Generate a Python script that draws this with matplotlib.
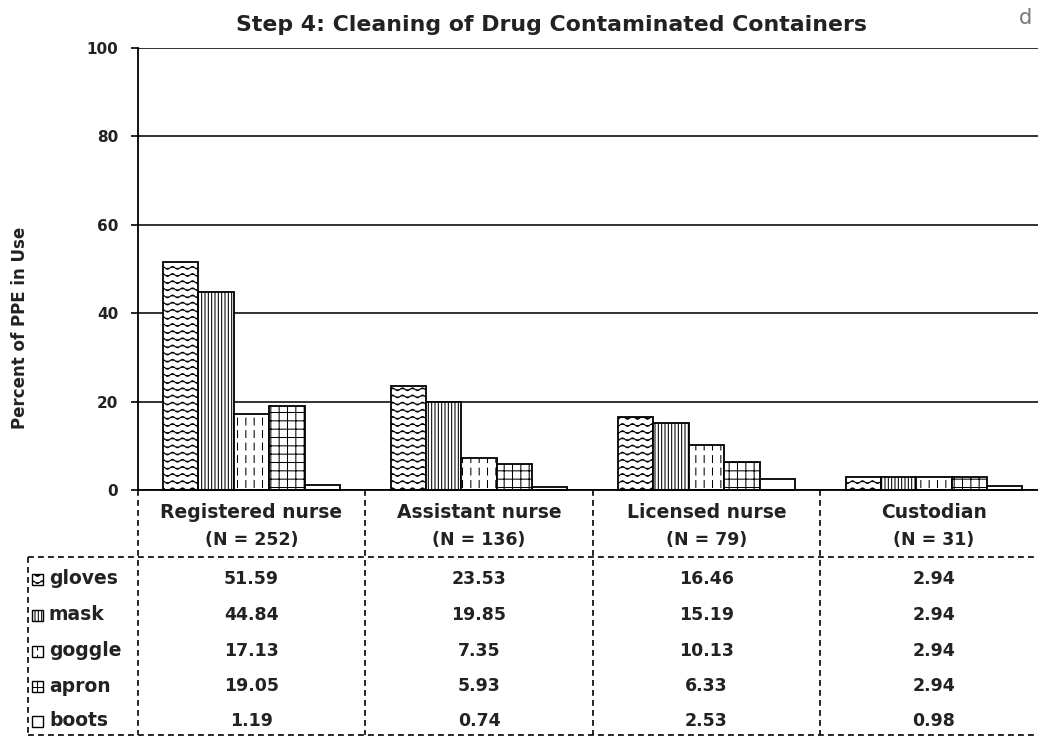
import warnings
warnings.filterwarnings("ignore")
import numpy as np
import matplotlib
matplotlib.use("Agg")
import matplotlib.pyplot as plt
import matplotlib.hatch as mhatch
from matplotlib.path import Path
from matplotlib.patches import Rectangle
from matplotlib.transforms import blended_transform_factory

# ---------------- data ----------------
categories = ["Registered nurse", "Assistant nurse", "Licensed nurse", "Custodian"]
group_sizes = ["(N = 252)", "(N = 136)", "(N = 79)", "(N = 31)"]
series = ["gloves", "mask", "goggle", "apron", "boots"]
gloves = [51.59, 23.53, 16.46, 2.94]
mask = [44.84, 19.85, 15.19, 2.94]
goggle = [17.13, 7.35, 10.13, 2.94]
apron = [19.05, 5.93, 6.33, 2.94]
boots = [1.19, 0.74, 2.53, 0.98]
y_ticks = [0, 20, 40, 60, 80, 100]
title = "Step 4: Cleaning of Drug Contaminated Containers"
y_label = "Percent of PPE in Use"


# ---------------- custom hatches ----------------
class WaveHatch(mhatch.HatchPatternBase):
    def __init__(self, hatch, density):
        self.num_rows = int(round(hatch.count('~') * density * 1.2))
        self.npts = 81
        self.num_vertices = self.num_rows * self.npts

    def set_vertices_and_codes(self, vertices, codes):
        xs = np.linspace(0, 1, self.npts)
        wave = 0.014 * np.sin(2 * np.pi * 10 * xs)
        k = 0
        for r in range(self.num_rows):
            y0 = (r + 0.5) / self.num_rows
            vertices[k:k + self.npts, 0] = xs
            vertices[k:k + self.npts, 1] = y0 + wave
            codes[k] = Path.MOVETO
            codes[k + 1:k + self.npts] = Path.LINETO
            k += self.npts


class DashHatch(mhatch.HatchPatternBase):
    def __init__(self, hatch, density):
        self.num_lines = int(hatch.count('!') * density)
        self.ndash = 8
        self.num_vertices = self.num_lines * self.ndash * 2

    def set_vertices_and_codes(self, vertices, codes):
        k = 0
        for i in range(self.num_lines):
            x = (i + 0.5) / self.num_lines
            for j in range(self.ndash):
                y0 = j / self.ndash
                vertices[k] = (x, y0)
                vertices[k + 1] = (x, y0 + 0.55 / self.ndash)
                codes[k] = Path.MOVETO
                codes[k + 1] = Path.LINETO
                k += 2


mhatch._hatch_types.append(WaveHatch)
mhatch._hatch_types.append(DashHatch)

hatches = ["~~", "|||||", "!!", "++", ""]
values = [gloves, mask, goggle, apron, boots]

plt.rcParams['hatch.linewidth'] = 0.75
plt.rcParams['font.family'] = ['DejaVu Sans']

W, H = 1038, 736
fig = plt.figure(figsize=(W / 100, H / 100), dpi=100)
fig.patch.set_facecolor("white")


def fx(p):
    return p / W


def fy(p):
    return 1 - p / H


ax_left, ax_right = 137.75, 1047.75
ax_top, ax_bot = 48, 490
ax = fig.add_axes([fx(ax_left), fy(ax_bot), (ax_right - ax_left) / W, (ax_bot - ax_top) / H])
ax.set_facecolor("white")

x = np.arange(len(categories))
bw = 0.1556
for i, (name, vals, h) in enumerate(zip(series, values, hatches)):
    ax.bar(x + (i - 2) * bw, vals, bw, facecolor="white", edgecolor="black",
           hatch=h, linewidth=1.3, zorder=3, clip_on=False)

ax.set_xlim(-0.5, len(categories) - 0.5)
ax.set_ylim(0, 100)
ax.set_yticks(y_ticks)
ax.set_yticklabels([str(t) for t in y_ticks], fontsize=11, fontweight="bold", color="#222222")
ax.set_xticks([])
ax.tick_params(axis="y", length=5, width=1.2, pad=9, direction="out")
ax.yaxis.grid(True, color="#222222", linewidth=1.3, zorder=0)
ax.set_axisbelow(True)
for s in ["top", "right"]:
    ax.spines[s].set_visible(False)
ax.spines["left"].set_linewidth(1.3)
ax.spines["bottom"].set_linewidth(1.3)
ax.spines["bottom"].set_zorder(4)

fig.text(fx(20), fy(328), y_label, rotation=90, ha="center", va="center",
         fontsize=12, fontweight="bold", color="#222222")
fig.text(fx(551), fy(25), title, ha="center", va="center",
         fontsize=15.8, fontweight="bold", color="#222222")
fig.text(fx(1025), fy(18), "d", ha="center", va="center",
         fontsize=15, color="#777777")

# ---------------- data table ----------------
trans = blended_transform_factory(ax.transData, fig.transFigure)
dash = (0, (3.5, 2.5))
lkw = dict(color="black", linewidth=1.2, linestyle=dash, clip_on=False)

# column separators
for k in range(len(categories)):
    ax.plot([k - 0.5, k - 0.5], [fy(ax_bot), fy(735)], transform=trans, **lkw)
# horizontal separators
for yp in [557, 735]:
    fig.add_artist(plt.Line2D([fx(28), 1.0], [fy(yp), fy(yp)], transform=fig.transFigure, **lkw))
fig.add_artist(plt.Line2D([fx(28), fx(28)], [fy(557), fy(735)], transform=fig.transFigure, **lkw))

hkw = dict(ha="center", va="center", fontsize=13.5, fontweight="bold", color="#222222")
tkw = dict(ha="center", va="center", fontsize=12.5, fontweight="bold", color="#222222")
for k, (c, n) in enumerate(zip(categories, group_sizes)):
    ax.text(k, fy(512), c, transform=trans, **hkw)
    ax.text(k, fy(540), n, transform=trans, **tkw)

row_y = [579, 615, 651, 686, 721]
for r, (name, vals, h) in enumerate(zip(series, values, hatches)):
    yy = fy(row_y[r])
    rect = Rectangle((fx(32), yy - 5.5 / H), 11 / W, 11 / H, transform=fig.transFigure,
                     facecolor="white", edgecolor="black", hatch=h, linewidth=1.0)
    fig.add_artist(rect)
    fig.text(fx(49), yy, name, ha="left", va="center", fontsize=13.5,
             fontweight="bold", color="#222222")
    for k, v in enumerate(vals):
        ax.text(k, yy, f"{v:.2f}", transform=trans, **tkw)

fig.savefig("out.png", dpi=100)
